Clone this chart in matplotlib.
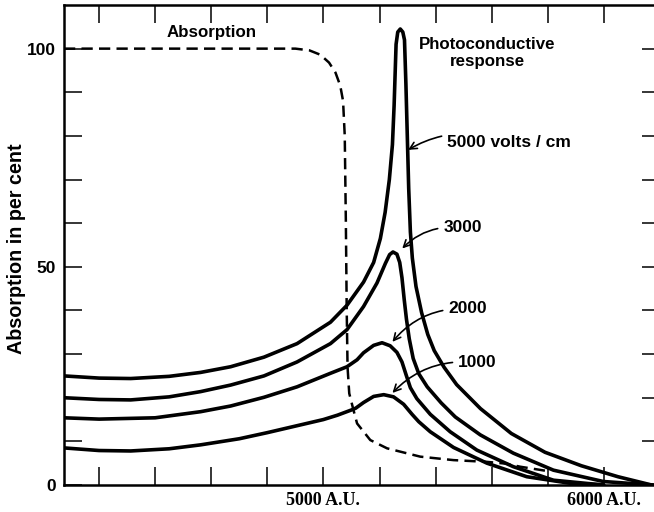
import numpy as np
import matplotlib
matplotlib.use('Agg')
from matplotlib import pyplot as plt

# wavelength (A.U.) / per cent values
absorb_x = [4075, 4900, 4950, 4989, 5020, 5043, 5060, 5070, 5076, 5080, 5083, 5086, 5092, 5107, 5120, 5167, 5227, 5345, 5464, 5583, 5650, 5701, 5808]
absorb_y = [100, 100, 99.6, 98.6, 96.8, 94.5, 91.5, 88, 80, 60, 40, 27, 21, 17.2, 14.1, 10.3, 8.4, 6.5, 5.7, 5.3, 4.9, 4.2, 3.1]

v5000_x = [4075, 4200, 4313, 4450, 4562, 4669, 4788, 4906, 5025, 5084, 5143, 5179, 5203, 5220, 5235, 5246, 5252, 5256, 5259, 5265, 5274, 5283, 5289, 5294, 5299, 5304, 5310, 5317, 5330, 5350, 5372, 5395, 5430, 5475, 5560, 5670, 5790, 5920, 6050, 6170, 6200]
v5000_y = [25.0, 24.5, 24.4, 24.9, 25.8, 27.1, 29.3, 32.4, 37.3, 41.2, 46.5, 51.0, 56.5, 62.5, 70.0, 78.0, 87.0, 95.0, 101.0, 103.8, 104.5, 103.8, 102.0, 92.0, 80.0, 68.0, 58.0, 52.0, 45.5, 39.5, 34.5, 30.8, 27.0, 23.0, 17.5, 11.8, 7.5, 4.4, 1.9, 0.0, 0.0]

v3000_x = [4075, 4200, 4313, 4450, 4562, 4669, 4788, 4906, 5025, 5084, 5143, 5191, 5221, 5236, 5248, 5262, 5272, 5280, 5288, 5296, 5306, 5320, 5340, 5370, 5420, 5470, 5559, 5677, 5820, 5998, 6175]
v3000_y = [20.0, 19.6, 19.5, 20.2, 21.4, 22.9, 25.0, 28.2, 32.4, 35.6, 40.9, 46.3, 50.8, 52.8, 53.4, 52.9, 51.0, 47.5, 42.5, 38.0, 33.5, 29.0, 25.5, 22.5, 18.8, 15.6, 11.5, 7.3, 3.4, 0.8, 0.0]

v2000_x = [4075, 4200, 4400, 4562, 4669, 4788, 4906, 5025, 5084, 5120, 5143, 5179, 5209, 5238, 5262, 5280, 5295, 5310, 5333, 5381, 5452, 5547, 5677, 5820, 5998]
v2000_y = [15.4, 15.1, 15.4, 16.8, 18.1, 20.1, 22.5, 25.6, 27.1, 28.7, 30.3, 32.0, 32.6, 31.9, 30.4, 28.2, 25.2, 22.3, 19.8, 16.2, 12.2, 8.0, 4.2, 1.1, 0.0]

v1000_x = [4075, 4200, 4313, 4450, 4562, 4700, 4800, 4900, 5000, 5050, 5100, 5115, 5143, 5179, 5215, 5250, 5286, 5316, 5340, 5381, 5464, 5583, 5725, 5879, 6000]
v1000_y = [8.5, 7.9, 7.8, 8.3, 9.2, 10.6, 12.0, 13.5, 15.0, 16.0, 17.2, 17.6, 18.9, 20.3, 20.7, 20.2, 18.5, 16.2, 14.5, 12.2, 8.6, 5.0, 1.9, 0.4, 0.0]

# label, text position, arrow tip
volt_labels = ['5000 volts / cm', '3000', '2000', '1000']
label_x = [5441, 5427, 5445, 5480]
label_y = [78.4, 58.9, 40.4, 28.0]
tip_x = [5302, 5281, 5246, 5246]
tip_y = [76.8, 54.2, 32.8, 21.1]

fig = plt.figure(figsize=(6.54, 5.12), dpi=100)
ax = fig.add_axes([64/654, 27/512, 596/654, 480/512])

ax.plot(absorb_x, absorb_y, color='black', lw=1.8, linestyle=(0, (4.5, 2.5)))
for xs, ys in [(v5000_x, v5000_y), (v3000_x, v3000_y), (v2000_x, v2000_y), (v1000_x, v1000_y)]:
	ax.plot(xs, ys, color='black', lw=2.6, solid_joinstyle='round', solid_capstyle='round')

ax.set_xlim(4075, 6200)
ax.set_ylim(0, 110)

sans = 'Liberation Sans'
serif = 'Liberation Serif'

xt = np.arange(4200, 6001, 200)
ax.set_xticks(xt)
ax.set_xticklabels(['5000 A.U.' if t == 5000 else '6000 A.U.' if t == 6000 else '' for t in xt],
	fontfamily=serif, fontsize=13, fontweight='bold')
yt = np.arange(0, 101, 10)
ax.set_yticks(yt)
ax.set_yticklabels(['0' if t == 0 else '50' if t == 50 else '100' if t == 100 else '' for t in yt],
	fontfamily=sans, fontsize=12.5, fontweight='bold')
ax.tick_params(axis='both', direction='in', length=13, width=1.1, top=True, right=True)
ax.tick_params(axis='x', pad=5)
ax.tick_params(axis='y', pad=6)
for s in ax.spines.values():
	s.set_linewidth(1.8)

fig.text(17/654, 1 - 249/512, 'Absorption in per cent', rotation=90, ha='center', va='center',
	fontfamily=sans, fontsize=14.2, fontweight='bold')

ax.text(4601, 103.7, 'Absorption', ha='center', va='center', fontfamily=sans, fontsize=12.2, fontweight='bold')
ax.text(5584, 99.0, 'Photoconductive\nresponse', ha='center', va='center', fontfamily=sans, fontsize=12.2,
	fontweight='bold', linespacing=1.1)

for lab, lx, ly, tx, ty in zip(volt_labels, label_x, label_y, tip_x, tip_y):
	ax.annotate(lab, xy=(tx, ty), xytext=(lx, ly), ha='left', va='center', fontfamily=sans, fontsize=12.5,
		fontweight='bold',
		arrowprops=dict(arrowstyle='->', color='black', lw=1.2, shrinkA=2, shrinkB=0,
			connectionstyle='arc3,rad=0.25'))

plt.savefig('out.png', dpi=100)
